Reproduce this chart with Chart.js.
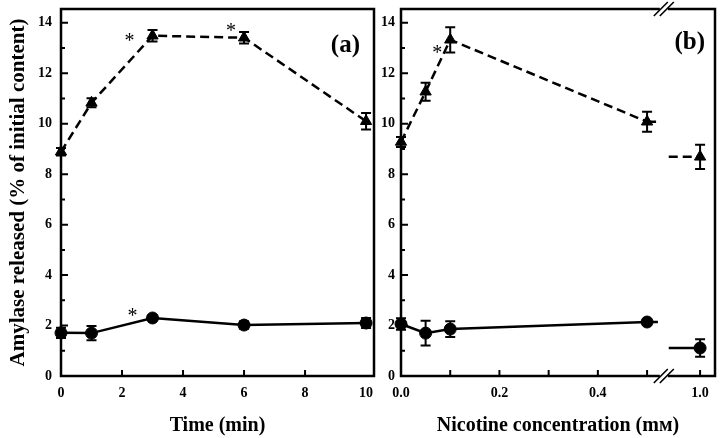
<!DOCTYPE html>
<html>
<head>
<meta charset="utf-8">
<script src="https://cdn.jsdelivr.net/npm/chart.js@4.4.0/dist/chart.umd.min.js"></script>
<style>
  html, body { margin: 0; padding: 0; background: #fff; }
  #wrap { position: relative; width: 720px; height: 438px; }
  .panel { position: absolute; top: 0; height: 438px; }
</style>
</head>
<body>
<div id="wrap">
  <div class="panel" style="left:0;width:378px"><canvas id="chartA"></canvas></div>
  <div class="panel" style="left:378px;width:342px"><canvas id="chartB"></canvas></div>
</div>
<script>
// panel (a): time course
const timeMin = [0, 1, 3, 6, 10];
const timeTriangle = [8.89, 10.83, 13.49, 13.41, 10.1];
const timeTriangleErr = [0.15, 0.18, 0.23, 0.23, 0.33];
const timeCircle = [1.71, 1.70, 2.30, 2.02, 2.10];
const timeCircleErr = [0.2, 0.28, 0.1, 0.15, 0.2];

// panel (b): nicotine concentration (mM)
const nicotineMM = [0, 0.05, 0.1, 0.5, 1.0];
const nicTriangle = [9.28, 11.27, 13.33, 10.08, 8.69];
const nicTriangleErr = [0.2, 0.36, 0.5, 0.4, 0.48];
const nicCircle = [2.06, 1.70, 1.86, 2.14, 1.11];
const nicCircleErr = [0.23, 0.49, 0.31, 0.1, 0.35];

const yTicks = [0, 2, 4, 6, 8, 10, 12, 14];
const timeTicks = [0, 2, 4, 6, 8, 10];
const nicTicks = [0, 0.2, 0.4, 1.0];
const nicMinorTicks = [0.1, 0.2, 0.3, 0.4, 0.5, 1.0];

// broken x axis in (b): values past the break are pulled left
const BREAK_SHIFT = 0.3923;
const noMap = c => c;
const breakMap = c => (c > 0.75 ? c - BREAK_SHIFT : c);

const FONT = "'Liberation Serif', 'Times New Roman', serif";
Chart.defaults.color = '#000';
Chart.defaults.font.family = FONT;

const decor = {
  id: 'decor',
  beforeDatasetsDraw(chart, args, o) {
    const { ctx, chartArea: a, scales: { x, y } } = chart;
    ctx.save();
    ctx.strokeStyle = '#000';
    ctx.lineWidth = 2.5;
    ctx.strokeRect(a.left, a.top, a.right - a.left, a.bottom - a.top);
    ctx.lineWidth = 2;
    ctx.beginPath();
    for (let v = 1; v <= 14; v++) {
      const py = y.getPixelForValue(v);
      ctx.moveTo(a.left, py);
      ctx.lineTo(a.left + (v % 2 === 0 ? 7 : 4), py);
    }
    o.xTicks.forEach(v => {
      const px = x.getPixelForValue(o.map(v));
      ctx.moveTo(px, a.bottom);
      ctx.lineTo(px, a.bottom - 6);
    });
    ctx.stroke();
    if (o.breakAt != null) {
      const bx = x.getPixelForValue(o.breakAt);
      [a.top, a.bottom].forEach(by => {
        ctx.fillStyle = '#fff';
        ctx.fillRect(bx - 4, by - 3, 8, 6);
        ctx.beginPath();
        ctx.lineWidth = 1.6;
        [-3, 3].forEach(off => {
          ctx.moveTo(bx + off - 7, by + 7);
          ctx.lineTo(bx + off + 7, by - 7);
        });
        ctx.stroke();
      });
    }
    ctx.restore();
  },
  afterDatasetsDraw(chart, args, o) {
    const { ctx, chartArea: a, scales: { x, y } } = chart;
    ctx.save();
    ctx.strokeStyle = '#000';
    ctx.fillStyle = '#000';
    // error bars
    chart.data.datasets.forEach((ds, di) => {
      const meta = chart.getDatasetMeta(di);
      ctx.lineWidth = 2;
      ctx.setLineDash([]);
      ctx.beginPath();
      ds.errs.forEach((e, i) => {
        const p = meta.data[i];
        const v = ds.data[i].y;
        const y1 = y.getPixelForValue(v + e), y2 = y.getPixelForValue(v - e);
        ctx.moveTo(p.x, y1); ctx.lineTo(p.x, y2);
        ctx.moveTo(p.x - 5, y1); ctx.lineTo(p.x + 5, y1);
        ctx.moveTo(p.x - 5, y2); ctx.lineTo(p.x + 5, y2);
      });
      ctx.stroke();
      // stubs either side of the axis break
      if (o.breakAt != null) {
        const p3 = meta.data[3], p4 = meta.data[4];
        ctx.lineWidth = 2.5;
        ctx.setLineDash(ds.borderDash || []);
        ctx.beginPath();
        ctx.moveTo(p3.x, p3.y); ctx.lineTo(x.getPixelForValue(o.stubLeft), p3.y);
        ctx.moveTo(x.getPixelForValue(o.stubRight), p4.y); ctx.lineTo(p4.x, p4.y);
        ctx.stroke();
        ctx.setLineDash([]);
      }
    });
    // significance marks
    ctx.font = '20px ' + FONT;
    ctx.textAlign = 'center';
    ctx.textBaseline = 'alphabetic';
    o.stars.forEach(s => {
      const p = chart.getDatasetMeta(s.ds).data[s.i];
      ctx.fillText('*', p.x + s.dx, p.y + s.dy + 10);
    });
    // panel label
    ctx.font = 'bold 25px ' + FONT;
    ctx.textAlign = 'right';
    ctx.textBaseline = 'middle';
    ctx.fillText(o.label, a.right - o.labelDx, a.top + o.labelDy);
    ctx.restore();
  }
};

function lineSet(xs, ys, errs, style, map, brk) {
  const isTri = style === 'triangle';
  return {
    data: xs.map((c, i) => ({ x: map(c), y: ys[i] })),
    errs: errs,
    borderColor: '#000',
    backgroundColor: '#000',
    borderWidth: 2.5,
    borderDash: isTri ? [9, 5] : [],
    pointStyle: style,
    pointRadius: isTri ? 6.5 : 6,
    pointBorderWidth: 1,
    tension: 0,
    clip: false,
    segment: brk ? { borderColor: ctx => (ctx.p0DataIndex === 3 ? 'rgba(0,0,0,0)' : undefined) } : undefined
  };
}

function makeOptions(cfg) {
  return {
    responsive: true,
    maintainAspectRatio: false,
    animation: false,
    events: [],
    layout: { autoPadding: false, padding: { top: 9, right: cfg.padRight, left: 0, bottom: 0 } },
    plugins: {
      legend: { display: false },
      tooltip: { enabled: false },
      decor: cfg.decor
    },
    scales: {
      x: {
        type: 'linear',
        min: 0,
        max: cfg.xMax,
        grid: { display: false, drawTicks: false },
        border: { display: false },
        afterFit: s => { s.height = 62; s.paddingLeft = 0; s.paddingRight = 0; },
        afterBuildTicks: s => { s.ticks = cfg.xTickVals.map(v => ({ value: cfg.decor.map(v) })); },
        ticks: {
          autoSkip: false,
          maxRotation: 0,
          padding: 9,
          font: { size: 14, weight: 'bold' },
          callback: (v, i) => cfg.xTickLabel(cfg.xTickVals[i])
        },
        title: {
          display: true,
          text: cfg.xTitle,
          font: { size: 20, weight: 'bold' },
          padding: { top: 0, bottom: 0 }
        }
      },
      y: {
        min: 0,
        max: 14.55,
        grid: { display: false, drawTicks: false },
        border: { display: false },
        afterFit: s => { s.width = cfg.yWidth; s.paddingTop = 0; s.paddingBottom = 0; },
        afterBuildTicks: s => { s.ticks = yTicks.map(v => ({ value: v })); },
        ticks: {
          padding: cfg.yPad,
          font: { size: 14, weight: 'bold' }
        },
        title: {
          display: cfg.yTitle != null,
          text: cfg.yTitle || '',
          font: { size: 21, weight: 'bold' },
          padding: { top: 6, bottom: 0 }
        }
      }
    }
  };
}

new Chart(document.getElementById('chartA'), {
  type: 'line',
  data: {
    datasets: [
      lineSet(timeMin, timeTriangle, timeTriangleErr, 'triangle', noMap, false),
      lineSet(timeMin, timeCircle, timeCircleErr, 'circle', noMap, false)
    ]
  },
  options: makeOptions({
    padRight: 4,
    xMax: 10.26,
    xTickVals: timeTicks,
    xTickLabel: v => String(v),
    xTitle: 'Time (min)',
    yWidth: 61,
    yPad: 9,
    yTitle: 'Amylase released (% of initial content)',
    decor: {
      map: noMap,
      xTicks: [2, 4, 6, 8],
      breakAt: null,
      label: '(a)',
      labelDx: 14,
      labelDy: 37,
      stars: [
        { ds: 0, i: 2, dx: -23, dy: 1 },
        { ds: 0, i: 3, dx: -13, dy: -11 },
        { ds: 1, i: 2, dx: -20, dy: -6 }
      ]
    }
  }),
  plugins: [decor]
});

new Chart(document.getElementById('chartB'), {
  type: 'line',
  data: {
    datasets: [
      lineSet(nicotineMM, nicTriangle, nicTriangleErr, 'triangle', breakMap, true),
      lineSet(nicotineMM, nicCircle, nicCircleErr, 'circle', breakMap, true)
    ]
  },
  options: makeOptions({
    padRight: 5,
    xMax: 0.638,
    xTickVals: nicTicks,
    xTickLabel: v => v.toFixed(1),
    xTitle: 'Nicotine concentration (mᴍ)',
    yWidth: 23,
    yPad: 6,
    yTitle: null,
    decor: {
      map: breakMap,
      xTicks: nicMinorTicks,
      breakAt: 0.534,
      stubLeft: 0.522,
      stubRight: 0.544,
      label: '(b)',
      labelDx: 10,
      labelDy: 34,
      stars: [
        { ds: 0, i: 2, dx: -13, dy: 9 }
      ]
    }
  }),
  plugins: [decor]
});
</script>
</body>
</html>
